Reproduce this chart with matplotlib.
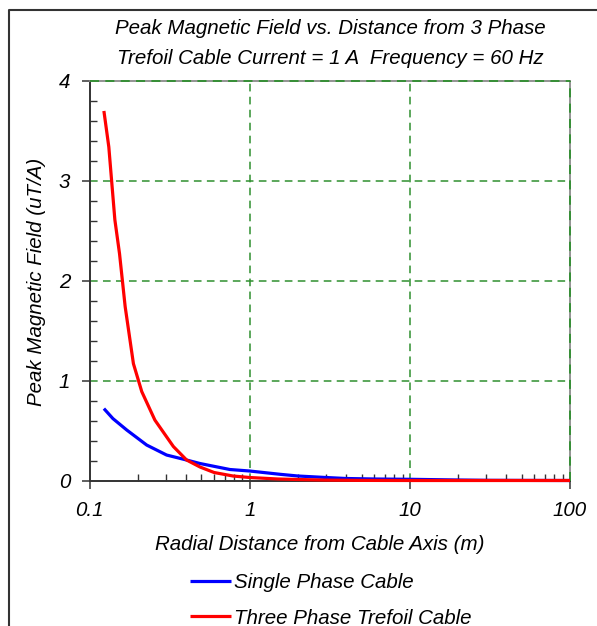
import matplotlib
matplotlib.use("Agg")
import matplotlib.pyplot as plt
from matplotlib.lines import Line2D
from matplotlib.ticker import MultipleLocator, LogLocator, NullFormatter

# Radial distance from cable axis (m) and peak field per amp (uT/A)
single_r = [0.123, 0.14, 0.171, 0.2275, 0.303, 0.404, 0.49, 0.753, 1.0, 1.55,
            2.0, 3.0, 4.0, 6.0, 10.0, 15.0, 20.0, 30.0, 50.0, 100.0]
single_b = [0.72, 0.62, 0.505, 0.355, 0.255, 0.205, 0.17, 0.11, 0.095, 0.062,
            0.045, 0.03, 0.02, 0.015, 0.012, 0.008, 0.005, 0.002, 0.001, 0.0]

trefoil_r = [0.123, 0.132, 0.144, 0.154, 0.167, 0.188, 0.212, 0.256, 0.334, 0.404,
             0.49, 0.6, 0.787, 1.0, 1.5, 2.0, 3.0, 5.0, 10.0, 20.0, 50.0, 100.0]
trefoil_b = [3.70, 3.34, 2.61, 2.27, 1.74, 1.17, 0.89, 0.605, 0.34, 0.205,
             0.135, 0.08, 0.045, 0.03, 0.015, 0.01, 0.004, 0.001, 0.0, 0.0, 0.0, 0.0]

series_names = ["Single Phase Cable", "Three Phase Trefoil Cable"]
x_ticks = [0.1, 1, 10, 100]
x_tick_labels = ["0.1", "1", "10", "100"]
y_ticks = [0, 1, 2, 3, 4]
y_tick_labels = ["0", "1", "2", "3", "4"]
title_lines = ["Peak Magnetic Field vs. Distance from 3 Phase",
               "Trefoil Cable Current = 1 A  Frequency = 60 Hz"]
x_label = "Radial Distance from Cable Axis (m)"
y_label = "Peak Magnetic Field (uT/A)"

plt.rcParams['font.family'] = ['Liberation Sans', 'DejaVu Sans']
plt.rcParams['font.style'] = 'italic'
FS = 14.8

W, H = 597, 626
fig = plt.figure(figsize=(W / 100, H / 100), dpi=100)
fig.patch.set_facecolor('white')

ax = fig.add_axes([89.5 / W, 1 - 480.5 / H, (570 - 89.5) / W, (480.5 - 81) / H])
ax.set_xscale('log')
ax.set_xlim(0.1, 100)
ax.set_ylim(0, 4)

grid_color = '#2f8f2f'
dash = (0, (5, 3.5))
for xv in [1, 10]:
    ax.axvline(xv, color=grid_color, lw=1.1, ls=dash, zorder=1)
for yv in [1, 2, 3]:
    ax.axhline(yv, color=grid_color, lw=1.1, ls=dash, zorder=1)
# dashed gridline over the top and right frame edges
ax.axhline(4, color=grid_color, lw=1.3, ls=dash, zorder=3, clip_on=False)
ax.axvline(100, color=grid_color, lw=1.3, ls=dash, zorder=3, clip_on=False)

ax.plot(single_r, single_b, color='#0000ff', lw=2.3, zorder=4,
        clip_on=False, label=series_names[0], solid_capstyle='butt')
ax.plot(trefoil_r, trefoil_b, color='#ff0000', lw=2.3, zorder=5,
        clip_on=False, label=series_names[1], solid_capstyle='butt')

for side in ['left', 'bottom']:
    ax.spines[side].set_color('#333333')
    ax.spines[side].set_linewidth(1.4)
for side in ['top', 'right']:
    ax.spines[side].set_color('#8a8a8a')
    ax.spines[side].set_linewidth(1.3)

ax.set_xticks(x_ticks, x_tick_labels, fontstyle='italic', fontsize=FS)
ax.set_yticks(y_ticks, y_tick_labels, fontstyle='italic', fontsize=FS)
ax.xaxis.set_minor_locator(LogLocator(base=10, subs=range(2, 10)))
ax.xaxis.set_minor_formatter(NullFormatter())
ax.yaxis.set_minor_locator(MultipleLocator(0.2))

ax.tick_params(which='major', direction='out', length=6, width=1.1,
               color='#333333', labelcolor='black')
ax.tick_params(axis='x', which='major', pad=9)
ax.tick_params(axis='y', which='major', pad=8)
ax.tick_params(which='minor', direction='in', length=5, width=1.0, color='#333333')

fig.text(330 / W, 1 - 28 / H, title_lines[0], ha='center', va='center',
         fontsize=FS, style='italic')
fig.text(330 / W, 1 - 58 / H, title_lines[1], ha='center', va='center',
         fontsize=FS, style='italic')
fig.text(320 / W, 1 - 545 / H, x_label, ha='center', va='center',
         fontsize=FS, style='italic')
fig.text(37 / W, 1 - 282 / H, y_label, ha='center', va='center',
         fontsize=FS, style='italic', rotation=90)

fig.legend(loc='upper left', bbox_to_anchor=(190 / W, 1 - 573.5 / H),
           frameon=False, handlelength=2.0, handletextpad=0.15,
           labelspacing=0.78, borderpad=0, borderaxespad=0,
           prop={'style': 'italic', 'size': FS})

# outer frame (left and top edges)
fig.add_artist(Line2D([8.5 / W, 8.5 / W, 1.0], [0.0, 1 - 9.5 / H, 1 - 9.5 / H],
                      transform=fig.transFigure, color='#333333', lw=1.5))

fig.savefig('out.png', dpi=100, facecolor='white')
